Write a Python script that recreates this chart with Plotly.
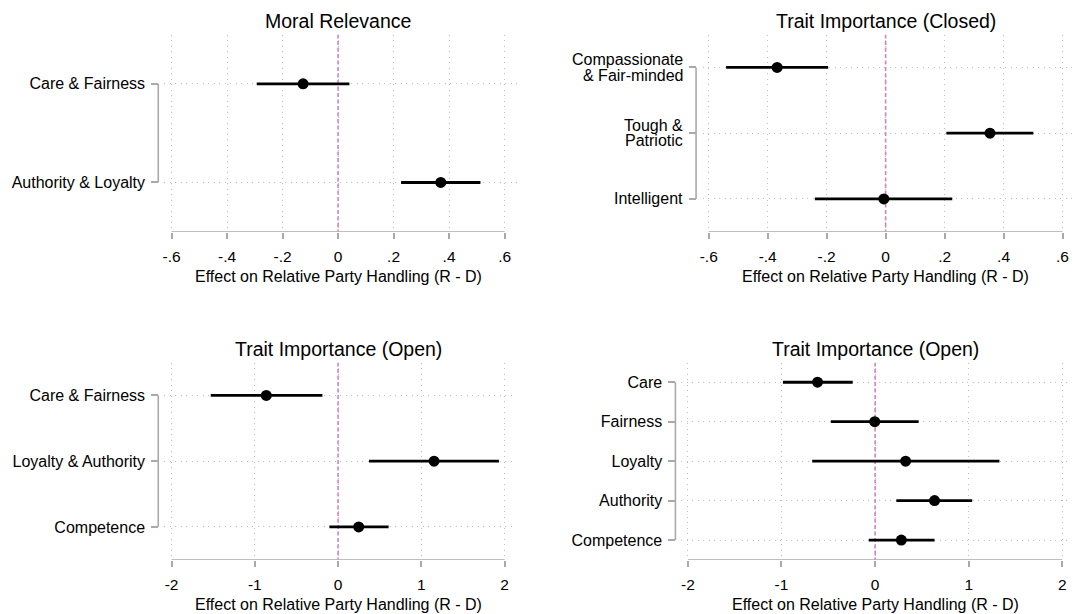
import plotly.graph_objects as go

W, H = 1073, 614

# Moral Relevance
moral_labels = ["Care & Fairness", "Authority & Loyalty"]
moral_est = [-0.126, 0.370]
moral_lo = [-0.293, 0.227]
moral_hi = [0.041, 0.513]

# Trait Importance (Closed)
closed_labels = ["Compassionate<br>& Fair-minded", "Tough &<br>Patriotic", "Intelligent"]
closed_est = [-0.368, 0.354, -0.006]
closed_lo = [-0.541, 0.206, -0.240]
closed_hi = [-0.195, 0.501, 0.226]

# Trait Importance (Open), combined foundations
open3_labels = ["Care & Fairness", "Loyalty & Authority", "Competence"]
open3_est = [-0.862, 1.153, 0.248]
open3_lo = [-1.529, 0.371, -0.104]
open3_hi = [-0.188, 1.932, 0.607]

# Trait Importance (Open), separate foundations
open5_labels = ["Care", "Fairness", "Loyalty", "Authority", "Competence"]
open5_est = [-0.615, -0.004, 0.326, 0.635, 0.280]
open5_lo = [-0.985, -0.473, -0.672, 0.227, -0.068]
open5_hi = [-0.239, 0.465, 1.328, 1.037, 0.635]

small_ticks = [-0.6, -0.4, -0.2, 0, 0.2, 0.4, 0.6]
small_tick_text = ["-.6", "-.4", "-.2", "0", ".2", ".4", ".6"]
wide_ticks = [-2, -1, 0, 1, 2]
wide_tick_text = ["-2", "-1", "0", "1", "2"]

x_title = "Effect on Relative Party Handling (R - D)"

FONT = "Liberation Sans, Arial, Helvetica, sans-serif"
GREY = "#a9a9a9"
GRID = "#bdbdbd"
PINK = "#d683bb"
LABEL_SIZE = 16
LINE_GAP = 15.6  # baseline distance for two-line category labels

TOP_ROW = (34.5, 231.8)
BOTTOM_ROW = (362.5, 559.8)

panels = [
    dict(title="Moral Relevance", labels=moral_labels, est=moral_est, lo=moral_lo, hi=moral_hi,
         ticks=small_ticks, ticktext=small_tick_text,
         plot_px=(161.7, 515.0), tick_px=(169.0, 503.0), bracket_px=155.7, rows=TOP_ROW),
    dict(title="Trait Importance (Closed)", labels=closed_labels, est=closed_est, lo=closed_lo, hi=closed_hi,
         ticks=small_ticks, ticktext=small_tick_text,
         plot_px=(701.7, 1072.0), tick_px=(707.7, 1062.5), bracket_px=695.0, rows=TOP_ROW),
    dict(title="Trait Importance (Open)", labels=open3_labels, est=open3_est, lo=open3_lo, hi=open3_hi,
         ticks=wide_ticks, ticktext=wide_tick_text,
         plot_px=(161.7, 514.0), tick_px=(169.0, 503.0), bracket_px=155.7, rows=BOTTOM_ROW),
    dict(title="Trait Importance (Open)", labels=open5_labels, est=open5_est, lo=open5_lo, hi=open5_hi,
         ticks=wide_ticks, ticktext=wide_tick_text,
         plot_px=(680.0, 1072.0), tick_px=(686.8, 1062.3), bracket_px=674.3, rows=BOTTOM_ROW),
]


def fx(p):
    return p / W


def fy(p):
    return 1 - p / H


fig = go.Figure()
shapes = []
annotations = []

for i, p in enumerate(panels, start=1):
    xa = "x" if i == 1 else f"x{i}"
    ya = "y" if i == 1 else f"y{i}"
    xkey = "xaxis" if i == 1 else f"xaxis{i}"
    ykey = "yaxis" if i == 1 else f"yaxis{i}"

    t0, t1 = p["ticks"][0], p["ticks"][-1]
    scale = (p["tick_px"][1] - p["tick_px"][0]) / (t1 - t0)
    xr = [t0 - (p["tick_px"][0] - p["plot_px"][0]) / scale,
          t1 + (p["plot_px"][1] - p["tick_px"][1]) / scale]
    n = len(p["labels"])
    multiline = any("<br>" in lab for lab in p["labels"])

    fig.add_trace(go.Scatter(
        x=p["est"], y=p["labels"], mode="markers", xaxis=xa, yaxis=ya,
        marker=dict(size=11, color="black"),
        error_x=dict(type="data", symmetric=False,
                     array=[h - e for h, e in zip(p["hi"], p["est"])],
                     arrayminus=[e - l for e, l in zip(p["est"], p["lo"])],
                     color="black", thickness=2.8, width=0),
        showlegend=False, hoverinfo="skip",
    ))

    fig.layout[xkey] = dict(
        domain=[fx(p["plot_px"][0]), fx(p["plot_px"][1])], range=xr,
        anchor=ya, tickmode="array", tickvals=p["ticks"], ticktext=p["ticktext"],
        ticks="outside", ticklen=6, tickwidth=1.5, tickcolor=GREY, ticklabelstandoff=5,
        showline=False, zeroline=False,
        showgrid=True, gridcolor=GRID, griddash="1px,4.5px", gridwidth=1,
        tickfont=dict(family=FONT, size=15.5, color="black"), fixedrange=True,
    )
    fig.layout[ykey] = dict(
        domain=[fy(p["rows"][1]), fy(p["rows"][0])],
        type="category", categoryarray=p["labels"], categoryorder="array",
        range=[n - 0.5, -0.5], anchor="free", position=fx(p["bracket_px"]),
        ticks="outside", ticklen=7, tickwidth=1.5, tickcolor=GREY, ticklabelstandoff=3,
        showticklabels=not multiline,
        showline=False, zeroline=False,
        showgrid=True, gridcolor=GRID, griddash="1px,4.5px", gridwidth=1,
        tickfont=dict(family=FONT, size=LABEL_SIZE, color="black"), fixedrange=True,
    )

    if multiline:
        # category labels set line by line for tighter leading
        for k, lab in enumerate(p["labels"]):
            lines = lab.split("<br>")
            m = len(lines)
            for j, line in enumerate(lines):
                annotations.append(dict(
                    text=line, xref="paper", yref=ya, x=fx(p["bracket_px"] - 11.5), y=k,
                    yshift=-(j - (m - 1) / 2) * LINE_GAP,
                    xanchor="right", yanchor="middle", showarrow=False,
                    font=dict(family=FONT, size=LABEL_SIZE, color="black")))

    # reference line at zero, beneath the markers
    shapes.append(dict(type="line", xref=xa, yref=ya, x0=0, x1=0, y0=-0.5, y1=n - 0.5,
                       line=dict(color=PINK, width=1.6, dash="4px,2.5px"), layer="between"))
    # x axis line spanning the labelled range
    shapes.append(dict(type="line", xref=xa, yref=ya, x0=t0, x1=t1, y0=n - 0.5, y1=n - 0.5,
                       line=dict(color=GREY, width=1.6), layer="between"))
    # y axis bracket from first to last category
    shapes.append(dict(type="line", xref="paper", yref="paper",
                       x0=fx(p["bracket_px"]), x1=fx(p["bracket_px"]),
                       y0=fy(p["rows"][0] + (p["rows"][1] - p["rows"][0]) / (2 * n)),
                       y1=fy(p["rows"][1] - (p["rows"][1] - p["rows"][0]) / (2 * n)),
                       line=dict(color=GREY, width=1.6), layer="above"))

    cx = fx((p["tick_px"][0] + p["tick_px"][1]) / 2)
    top, bottom = p["rows"]
    annotations.append(dict(text=p["title"], xref="paper", yref="paper", x=cx, y=fy(top - 14),
                            xanchor="center", yanchor="middle", showarrow=False,
                            font=dict(family=FONT, size=19.5, color="black")))
    annotations.append(dict(text=x_title, xref="paper", yref="paper", x=cx, y=fy(bottom + 45),
                            xanchor="center", yanchor="middle", showarrow=False,
                            font=dict(family=FONT, size=16, color="black")))

fig.update_layout(
    width=W, height=H, margin=dict(l=0, r=0, t=0, b=0),
    paper_bgcolor="white", plot_bgcolor="white",
    shapes=shapes, annotations=annotations,
    font=dict(family=FONT, color="black"),
)

fig.write_html("out.html")
